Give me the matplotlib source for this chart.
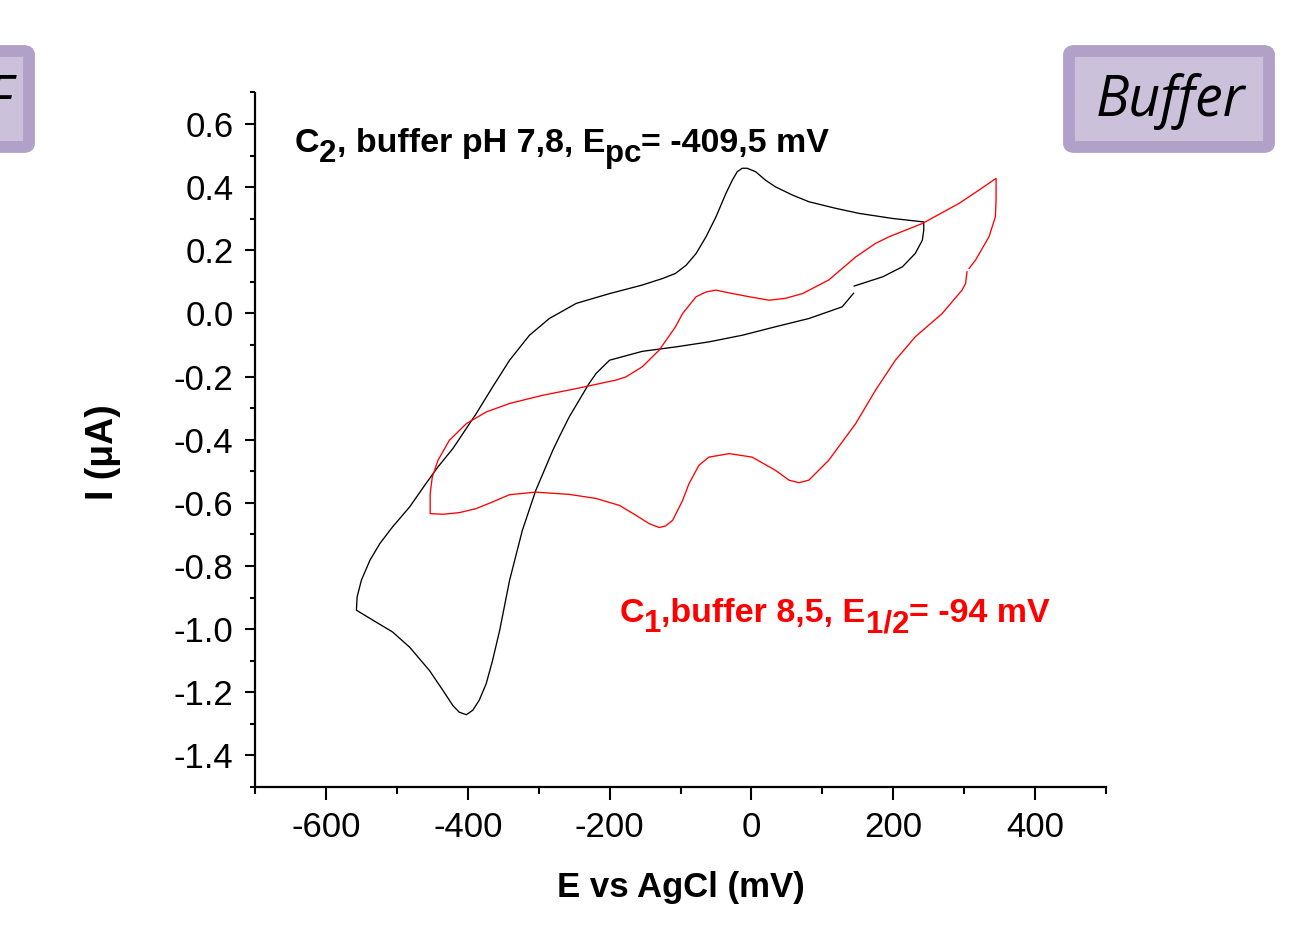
import matplotlib
matplotlib.use('Agg')
import matplotlib.pyplot as plt
from matplotlib.patches import FancyBboxPatch
from matplotlib.ticker import MultipleLocator, FormatStrFormatter
from matplotlib.transforms import offset_copy

plt.rcParams['font.family'] = ['Liberation Sans', 'DejaVu Sans']
plt.rcParams['axes.unicode_minus'] = False

# C2, buffer pH 7,8 (black curve)
c2_e = [144, 128, 81, 34, -13, -60, -107, -154, -200, -219, -229, -243, -257, -271,
        -280, -304, -323, -341, -355, -365, -374, -384, -393, -402, -412, -421, -435,
        -454, -482, -506, -529, -557,
        -556, -550, -538, -524, -506, -482, -459, -442, -421, -388, -365, -341, -313,
        -285, -247, -200, -154, -125, -107, -92, -78, -64, -50, -36, -27, -20, -13,
        -6, 6, 20, 34, 58, 81, 119, 152, 199, 243,
        243, 241, 231, 213, 185, 156, 145]
c2_i = [0.064, 0.021, -0.016, -0.042, -0.069, -0.090, -0.106, -0.120, -0.148, -0.190,
        -0.222, -0.275, -0.328, -0.391, -0.433, -0.560, -0.687, -0.845, -1.004, -1.099,
        -1.173, -1.226, -1.257, -1.271, -1.263, -1.242, -1.194, -1.131, -1.057, -1.009,
        -0.978, -0.940,
        -0.898, -0.845, -0.782, -0.729, -0.676, -0.613, -0.539, -0.486, -0.428, -0.317,
        -0.233, -0.148, -0.069, -0.016, 0.032, 0.063, 0.090, 0.111, 0.127, 0.153,
        0.190, 0.243, 0.306, 0.380, 0.422, 0.449, 0.460, 0.460, 0.449, 0.422, 0.401,
        0.375, 0.354, 0.333, 0.317, 0.301, 0.290,
        0.264, 0.232, 0.190, 0.148, 0.116, 0.095, 0.087]

# C1, buffer 8,5 (red curve)
c1_e = [304, 302, 297, 269, 231, 203, 175, 147, 109, 81, 67, 53, 34, 1, -31, -60,
        -74, -88, -97, -111, -121, -130, -144, -163, -186, -219, -257, -304, -341,
        -365, -388, -412, -435, -453,
        -453, -450, -442, -426, -402, -374, -341, -294, -247, -191, -177, -154, -130,
        -107, -97, -78, -64, -50, -31, -3, 25, 48, 72, 109, 147, 175, 194, 241, 293,
        321, 345,
        345, 344, 335, 316, 307]
c1_i = [0.132, 0.095, 0.074, 0.000, -0.074, -0.148, -0.243, -0.349, -0.465, -0.528,
        -0.536, -0.528, -0.497, -0.455, -0.444, -0.455, -0.481, -0.539, -0.592, -0.655,
        -0.673, -0.678, -0.666, -0.639, -0.608, -0.586, -0.573, -0.566, -0.574, -0.597,
        -0.618, -0.631, -0.636, -0.634,
        -0.571, -0.518, -0.465, -0.402, -0.349, -0.312, -0.285, -0.259, -0.238, -0.211,
        -0.201, -0.169, -0.116, -0.042, 0.000, 0.053, 0.068, 0.074, 0.065, 0.053,
        0.042, 0.048, 0.063, 0.106, 0.179, 0.222, 0.243, 0.285, 0.349, 0.391, 0.428,
        0.359, 0.306, 0.243, 0.169, 0.143]

W, H = 1313, 941
fig = plt.figure(figsize=(W / 100, H / 100), dpi=100)
ax = fig.add_axes([255 / W, 1 - 787 / H, (1106 - 255) / W, (787 - 92.5) / H])

ax.plot(c2_e, c2_i, color='black', lw=0.95)
ax.plot(c1_e, c1_i, color='red', lw=0.95)

ax.set_xlim(-700, 500)
ax.set_ylim(-1.5, 0.7)
ax.xaxis.set_major_locator(MultipleLocator(200))
ax.xaxis.set_minor_locator(MultipleLocator(100))
ax.yaxis.set_major_locator(MultipleLocator(0.2))
ax.yaxis.set_minor_locator(MultipleLocator(0.1))
ax.yaxis.set_major_formatter(FormatStrFormatter('%.1f'))

for side in ['top', 'right']:
    ax.spines[side].set_visible(False)
for side in ['left', 'bottom']:
    ax.spines[side].set_linewidth(1.6)
ax.tick_params(which='both', direction='out', width=1.5)
ax.tick_params(axis='y', which='major', length=7.5, pad=8, labelsize=25)
ax.tick_params(axis='y', which='minor', length=3.5)
ax.tick_params(axis='x', which='major', length=9, pad=8, labelsize=25)
ax.tick_params(axis='x', which='minor', length=5)

ax.set_xlabel('E vs AgCl (mV)', fontsize=25, fontweight='bold')
ax.xaxis.set_label_coords(0.5, -0.145)
ax.xaxis.label.set_va('center')
ax.set_ylabel('I (\u03bcA)', fontsize=27, fontweight='bold')
ax.yaxis.set_label_coords(-0.179, 0.482)
ax.yaxis.label.set_va('center')


def rich_text(x, y, parts, color, size):
    # parts: (string, is_subscript); subscripts almost full size, shifted down
    renderer = fig.canvas.get_renderer()
    dx = 0
    for s, sub in parts:
        fs = size * 0.92 if sub else size
        dy = -10 if sub else 0
        tr = offset_copy(ax.transData, fig=fig, x=dx, y=dy, units='dots')
        t = ax.text(x, y, s, transform=tr, fontsize=fs, fontweight='bold',
                    color=color, va='baseline', ha='left')
        dx += t.get_window_extent(renderer).width


rich_text(-644, 0.511, [('C', False), ('2', True), (', buffer pH 7,8, E', False),
                        ('pc', True), ('= -409,5 mV', False)], 'black', 24.5)
rich_text(-186, -0.978, [('C', False), ('1', True), (',buffer 8,5, E', False),
                         ('1/2', True), ('= -94 mV', False)], 'red', 24.5)


# purple label boxes
def label_box(x0, y0, x1, y1):
    fx0, fx1 = x0 / W, x1 / W
    fy0, fy1 = 1 - y1 / H, 1 - y0 / H
    box = FancyBboxPatch((fx0, fy0), fx1 - fx0, fy1 - fy0,
                         boxstyle='round,pad=0,rounding_size=0.004',
                         transform=fig.transFigure, facecolor='#CCC1DA',
                         edgecolor='#B1A0C7', linewidth=8.5, clip_on=False)
    fig.patches.append(box)


label_box(1069, 51, 1269, 147)
label_box(-60, 51, 29, 147)

fig.text(1170 / W, 1 - 101 / H, 'Buffer', fontsize=40, style='italic',
         family='Open Sans', ha='center', va='center')
fig.text(12 / W, 1 - 101 / H, 'F', fontsize=40, style='italic',
         family='Open Sans', ha='right', va='center')

fig.savefig('out.png', dpi=100)
